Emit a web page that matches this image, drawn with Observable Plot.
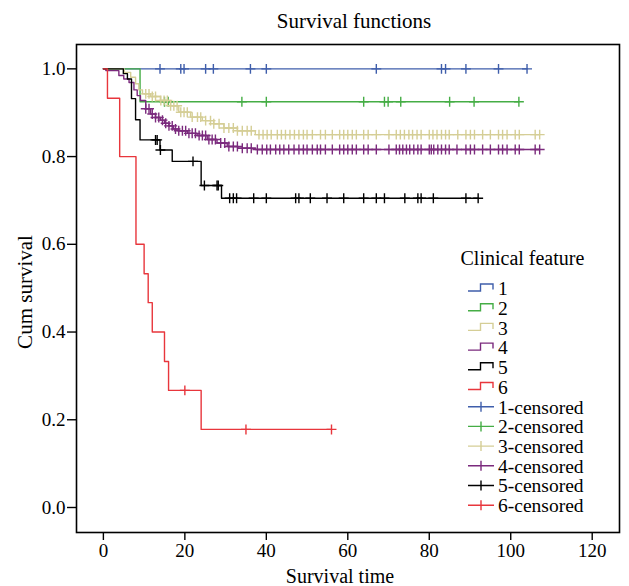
<!DOCTYPE html>
<html>
<head>
<meta charset="utf-8">
<script src="https://cdn.jsdelivr.net/npm/d3@7"></script>
<script src="https://cdn.jsdelivr.net/npm/@observablehq/plot@0.6"></script>
<style>
  body { margin: 0; background: white; }
  svg { display: block; }
  g[aria-label="x-axis tick"] path, g[aria-label="y-axis tick"] path { stroke-width: 1.4; }
</style>
</head>
<body>
<div id="chart"></div>
<script>
// ---- data ----
const groups = ["1", "2", "3", "4", "5", "6"];
const colors = ["#3f5eab", "#45ad45", "#d5ce96", "#7b2a7d", "#000000", "#e8363c"];
const xTicks = [0, 20, 40, 60, 80, 100, 120];
const yTicks = [0, 0.2, 0.4, 0.6, 0.8, 1.0];

const g1Times = [0, 104];
const g1Surv = [1, 1];
const g1Censor = [13.9, 19, 19.8, 25.1, 27, 36.1, 40, 67, 83, 84, 89, 97, 104];

const g2Times = [0, 9, 102];
const g2Surv = [1, 0.925, 0.925];
const g2Censor = [15, 15.9, 34, 40, 63.9, 69, 69.9, 73, 85, 91, 102];

const g3Times = [0, 5.1, 6.7, 7.9, 8.7, 9.6, 11.6, 14, 16.5, 18.5, 21.4, 24.3, 27.1, 29.6, 32.9, 37.3, 107.1];
const g3Surv = [1, 0.992, 0.981, 0.966, 0.952, 0.943, 0.937, 0.928, 0.916, 0.901, 0.890, 0.882, 0.875, 0.865, 0.859, 0.850, 0.850];
const g3Censor = [10.4, 11.2, 12.0, 12.8, 14.1, 14.9, 15.7, 16.5, 17.3, 18.1, 19.0, 19.8, 20.6, 21.8, 23.1, 23.9, 25.1, 26.3, 27.1, 28.4, 29.6, 30.8, 31.9, 32.9, 34.1, 35.3, 36.3, 38.2, 39.2, 40.2, 41.2, 42.7, 43.7, 44.7, 45.8, 46.9, 48.0, 49.1, 50.0, 51.3, 53.3, 54.5, 56.2, 58.0, 59.0, 60.0, 61.1, 62.1, 63.9, 65.0, 67.0, 70.1, 71.9, 72.9, 73.9, 75.0, 75.9, 77.0, 78.0, 80.0, 80.9, 81.9, 83.0, 84.0, 84.9, 87.0, 89.0, 90.1, 91.1, 93.1, 95.0, 97.0, 98.0, 99.1, 101.1, 102.1, 106.0, 107.1];

const g4Times = [0, 0.6, 3.8, 5, 6.3, 7.5, 8.3, 9.1, 10.4, 11.6, 12.8, 14, 15, 16.1, 17.2, 18.5, 20.6, 23, 25.5, 27.9, 30.4, 33, 37.3, 107.1];
const g4Surv = [1, 0.996, 0.985, 0.977, 0.969, 0.952, 0.939, 0.928, 0.909, 0.897, 0.889, 0.883, 0.876, 0.870, 0.863, 0.859, 0.853, 0.848, 0.839, 0.831, 0.823, 0.819, 0.816, 0.816];
const g4Censor = [10.4, 11.2, 12.0, 12.8, 13.6, 14.5, 15.3, 16.1, 16.9, 17.7, 18.5, 19.4, 20.2, 21.0, 21.8, 22.6, 23.5, 24.3, 25.1, 25.9, 26.7, 27.5, 28.8, 29.8, 30.8, 31.9, 32.9, 34.1, 35.3, 36.3, 37.8, 39.0, 40.1, 41.0, 42.3, 43.3, 44.3, 45.5, 46.8, 48.0, 49.1, 50.0, 51.3, 52.5, 53.3, 54.5, 56.2, 58.0, 59.0, 60.0, 61.1, 62.1, 63.9, 65.0, 67.0, 70.1, 71.9, 72.7, 73.5, 74.4, 75.2, 76.2, 77.2, 78.0, 80.0, 80.5, 81.1, 82.1, 83.0, 84.0, 84.9, 86.8, 89.0, 90.1, 91.1, 93.1, 95.0, 97.0, 98.0, 99.1, 101.1, 102.1, 106.0, 107.1];

const g5Times = [0, 4.9, 5.9, 6.9, 7.9, 9, 13.9, 16.9, 24, 29, 92];
const g5Surv = [1, 0.989, 0.977, 0.932, 0.884, 0.838, 0.815, 0.789, 0.734, 0.705, 0.705];
const g5Censor = [12.8, 13.2, 14, 22, 24.8, 27.9, 28.2, 31, 31.9, 32.7, 36.9, 40, 47.2, 48, 50.8, 54.9, 59, 63.9, 67, 69, 74, 77.2, 78, 81, 89, 92];

const g6Times = [0, 1, 4, 8, 10, 11, 12, 15, 16, 24, 56];
const g6Surv = [1, 0.933, 0.8, 0.6, 0.533, 0.467, 0.4, 0.333, 0.267, 0.178, 0.178];
const g6Censor = [20, 35, 56];

const legendLabels = ["1", "2", "3", "4", "5", "6", "1-censored", "2-censored", "3-censored", "4-censored", "5-censored", "6-censored"];

// ---- build tables ----
const series = [
  [g1Times, g1Surv, g1Censor], [g2Times, g2Surv, g2Censor], [g3Times, g3Surv, g3Censor],
  [g4Times, g4Surv, g4Censor], [g5Times, g5Surv, g5Censor], [g6Times, g6Surv, g6Censor]
];
const steps = [], censors = [];
series.forEach(([T, S, C], i) => {
  T.forEach((t, j) => steps.push({g: groups[i], t, s: S[j]}));
  C.forEach(t => {
    let s = S[0];
    for (let j = 0; j < T.length; j++) if (T[j] <= t) s = S[j];
    censors.push({g: groups[i], t, s});
  });
});

const font = "'Liberation Serif', 'Times New Roman', serif";

const chart = Plot.plot({
  width: 629,
  height: 586,
  marginLeft: 76,
  marginRight: 10,
  marginTop: 44,
  marginBottom: 54,
  style: {fontFamily: font, fontSize: "19px", color: "black", background: "white", overflow: "visible"},
  x: {domain: [-6.6, 126.7], ticks: xTicks, tickSize: 8, tickPadding: 3, label: null},
  y: {domain: [-0.057, 1.0555], ticks: yTicks, tickFormat: d3.format(".1f"), tickSize: 9, tickPadding: 2, label: null},
  color: {domain: groups, range: colors},
  marks: [
    Plot.line(steps, {x: "t", y: "s", z: "g", stroke: "g", curve: "step-after", strokeWidth: 1.4}),
    Plot.dot(censors, {x: "t", y: "s", stroke: "g", fill: "none", symbol: "plus", r: 3.3, strokeWidth: 1.4}),
    Plot.frame({stroke: "black", strokeWidth: 1.6})
  ]
});

document.getElementById("chart").appendChild(chart);

// ---- titles and legend ----
const svg = d3.select(chart);
svg.append("text").attr("x", 354).attr("y", 28).attr("text-anchor", "middle")
  .style("font-family", font).style("font-size", "21px").attr("fill", "black").text("Survival functions");
svg.append("text").attr("x", 340).attr("y", 583).attr("text-anchor", "middle")
  .style("font-family", font).style("font-size", "20px").attr("fill", "black").text("Survival time");
svg.append("text").attr("transform", "translate(32,292) rotate(-90)").attr("text-anchor", "middle")
  .style("font-family", font).style("font-size", "21px").attr("fill", "black").text("Cum survival");

const lg = svg.append("g").attr("text-anchor", "start");
lg.append("text").attr("x", 460.5).attr("y", 265).attr("text-anchor", "start")
  .style("font-family", font).style("font-size", "20px").attr("fill", "black").text("Clinical feature");
legendLabels.forEach((lab, i) => {
  const yc = 288.5 + i * 19.7;
  const col = colors[i % 6];
  if (i < 6) {
    lg.append("path").attr("d", `M468,${yc + 2.5}H480.5V${yc - 4.5}H493V${yc + 1}`)
      .attr("fill", "none").attr("stroke", col).attr("stroke-width", 1.4);
  } else {
    lg.append("path").attr("d", `M468,${yc}H494M481,${yc - 5}V${yc + 5}`)
      .attr("fill", "none").attr("stroke", col).attr("stroke-width", 1.4);
  }
  lg.append("text").attr("x", 498).attr("y", yc).attr("dy", "0.35em").attr("text-anchor", "start")
    .style("font-family", font).style("font-size", "19.5px").attr("fill", "black").text(lab);
});
</script>
</body>
</html>
